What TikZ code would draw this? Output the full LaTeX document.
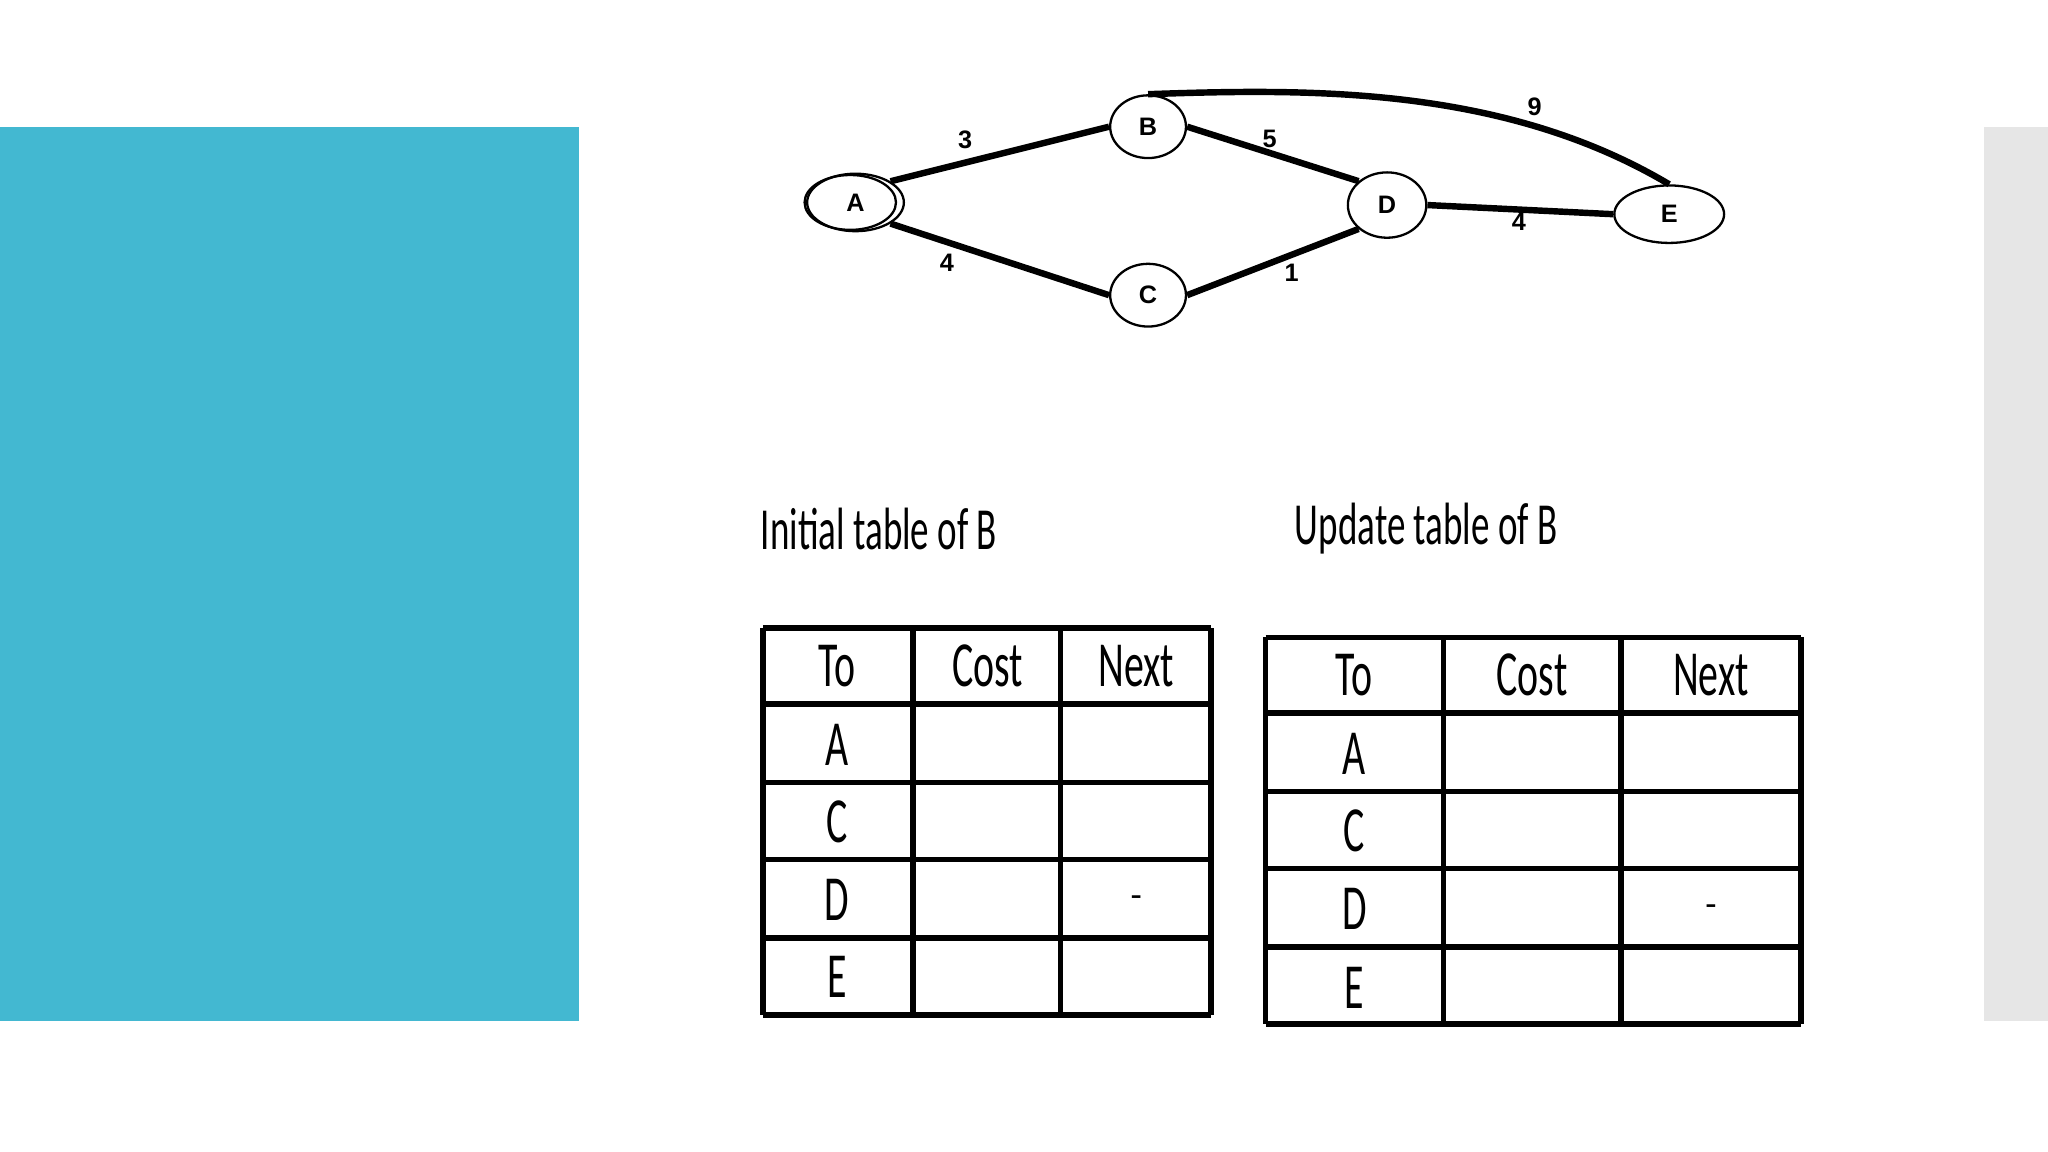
\documentclass[tikz,border=0pt]{standalone}
\usetikzlibrary{shapes.geometric}
\usepackage{fontspec}
\setmainfont{Carlito}
\newfontfamily\labf{Liberation Sans}
\newcommand{\nar}[1]{\scalebox{0.62}[1]{#1}}
\begin{document}
\begin{tikzpicture}[x=0.01cm,y=-0.01cm,
  vtx/.style={draw,ellipse,line width=0.5pt,inner sep=0pt,font=\labf\bfseries\fontsize{5.5}{7}\selectfont},
  edge/.style={line width=1.4pt},
  elab/.style={font=\labf\bfseries\fontsize{5.5}{7}\selectfont},
  tline/.style={line width=1.2pt},
  cell/.style={font=\fontsize{14}{16}\selectfont},
  ttl/.style={font=\fontsize{13}{15}\selectfont}]
\useasboundingbox (0,0) rectangle (1568,882);
\fill[white] (0,0) rectangle (1568,882);
\fill[fill={rgb,255:red,67;green,184;blue,209}] (0,97) rectangle (443,782);
\fill[fill={rgb,255:red,230;green,230;blue,230}] (1519,97) rectangle (1568,782);
% graph
\node[vtx,minimum width=0.74cm,minimum height=0.44cm] (A) at (655,155) {A};
\draw[line width=0.5pt] (651,155) ellipse [x radius=35,y radius=21];
\node[vtx,minimum width=0.58cm,minimum height=0.48cm] (B) at (879,97) {B};
\node[vtx,minimum width=0.58cm,minimum height=0.48cm] (C) at (879,226) {C};
\node[vtx,minimum width=0.60cm,minimum height=0.50cm] (D) at (1062,157) {D};
\node[vtx,minimum width=0.84cm,minimum height=0.44cm] (E) at (1278,164) {E};
\draw[edge] (A.north east) -- (B.west);
\draw[edge] (A.south east) -- (C.west);
\draw[edge] (B.east) -- (D.north west);
\draw[edge] (C.east) -- (D.south west);
\draw[edge] (D.east) -- (E.west);
\draw[edge] (B.north) .. controls (1000,68) and (1150,65) .. (E.north);
\node[elab] (l1) at (739,107) {3};
\node[elab] (l2) at (972,106) {5};
\node[elab] (l3) at (725,201) {4};
\node[elab] (l4) at (989,209) {1};
\node[elab] (l5) at (1163,170) {4};
\node[elab] (l6) at (1175,82) {9};
% titles
\node[ttl] (t1) at (673,405) {\nar{Initial table of B}};
\node[ttl] (t2) at (1092,405) {\nar{Update table of B}};
% table 1
\foreach \y in {481,539,599,658,718,777} \draw[tline] (584,\y) -- (927,\y);
\foreach \x in {584,699,812,927} \draw[tline] (\x,481) -- (\x,777);
\node[cell] (a1) at (641,510) {\nar{To}};
\node[cell] (a2) at (756,510) {\nar{Cost}};
\node[cell] (a3) at (870,510) {\nar{Next}};
\node[cell] (a4) at (641,570) {\nar{A}};
\node[cell] (a5) at (641,629) {\nar{C}};
\node[cell] (a6) at (641,689) {\nar{D}};
\node[cell] (a7) at (641,748) {\nar{E}};
\node[font=\fontsize{8}{9}\selectfont] (a8) at (870,690) {-};
% table 2
\foreach \y in {488,546,606,665,725,784} \draw[tline] (969,\y) -- (1379,\y);
\foreach \x in {969,1105,1241,1379} \draw[tline] (\x,488) -- (\x,784);
\node[cell] (b1) at (1037,517) {\nar{To}};
\node[cell] (b2) at (1173,517) {\nar{Cost}};
\node[cell] (b3) at (1310,517) {\nar{Next}};
\node[cell] (b4) at (1037,577) {\nar{A}};
\node[cell] (b5) at (1037,636) {\nar{C}};
\node[cell] (b6) at (1037,696) {\nar{D}};
\node[cell] (b7) at (1037,756) {\nar{E}};
\node[font=\fontsize{8}{9}\selectfont] (b8) at (1310,697) {-};
\end{tikzpicture}
\end{document}
